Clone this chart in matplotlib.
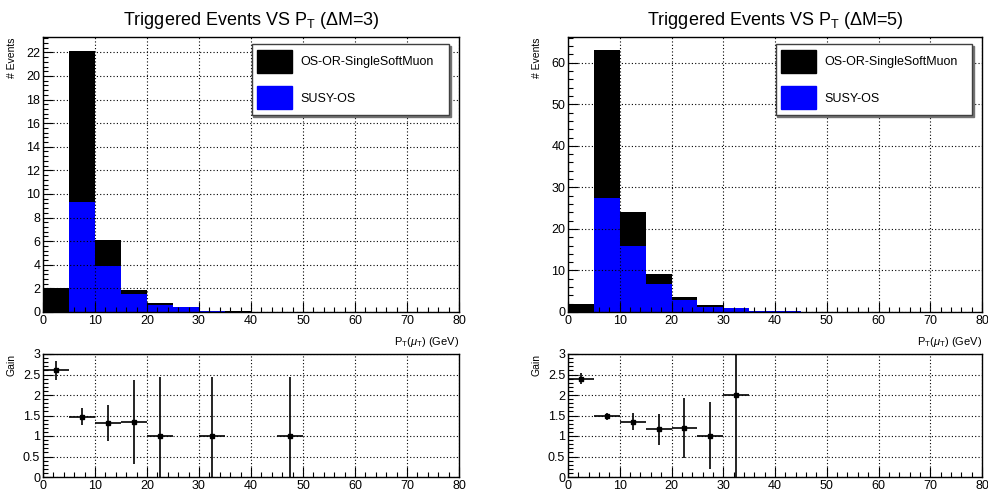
import numpy as np
import matplotlib
matplotlib.use("Agg")
import matplotlib.pyplot as plt
from matplotlib.patches import Patch
from matplotlib.ticker import MultipleLocator

plt.rcParams['font.family'] = ['Liberation Sans', 'DejaVu Sans']
plt.rcParams['mathtext.fontset'] = 'custom'
plt.rcParams['mathtext.rm'] = 'Liberation Sans'
plt.rcParams['mathtext.it'] = 'Liberation Sans:italic'

# pT bins, 5 GeV wide from 0 to 80
edges = np.arange(0, 85, 5)

# dM = 3 sample
or_dm3 = [2.0, 22.1, 6.1, 1.9, 0.8, 0.4, 0.1, 0.1, 0, 0, 0, 0, 0, 0, 0, 0]
susy_dm3 = [0, 9.3, 3.9, 1.5, 0.6, 0.4, 0.1, 0, 0, 0, 0, 0, 0, 0, 0, 0]
gain_x_dm3 = [2.5, 7.5, 12.5, 17.5, 22.5, 32.5, 47.5]
gain_dm3 = [2.6, 1.47, 1.32, 1.35, 1.0, 1.0, 1.0]
gain_lo_dm3 = [2.36, 1.27, 0.87, 0.32, 0.0, 0.0, 0.0]
gain_hi_dm3 = [2.84, 1.68, 1.75, 2.36, 2.43, 2.43, 2.43]

# dM = 5 sample
or_dm5 = [2.0, 63.1, 24.0, 9.1, 3.6, 1.8, 1.0, 0.3, 0.3, 0, 0, 0, 0, 0, 0, 0]
susy_dm5 = [0, 27.5, 16.0, 6.7, 2.9, 1.2, 0.9, 0.3, 0.3, 0, 0, 0, 0, 0, 0, 0]
gain_x_dm5 = [2.5, 7.5, 12.5, 17.5, 22.5, 27.5, 32.5]
gain_dm5 = [2.38, 1.48, 1.35, 1.17, 1.2, 1.0, 2.0]
gain_lo_dm5 = [2.27, 1.38, 1.14, 0.79, 0.47, 0.19, 0.0]
gain_hi_dm5 = [2.53, 1.56, 1.57, 1.54, 1.93, 1.83, 4.0]

panels = [
    ("3", or_dm3, susy_dm3, 23.3, 2, gain_x_dm3, gain_dm3, gain_lo_dm3, gain_hi_dm3),
    ("5", or_dm5, susy_dm5, 66.2, 10, gain_x_dm5, gain_dm5, gain_lo_dm5, gain_hi_dm5),
]

W, H = 988, 494
fig = plt.figure(figsize=(W / 100, H / 100), dpi=100)


def px_axes(x0, x1, y0, y1):
    return fig.add_axes([x0 / W, 1 - y1 / H, (x1 - x0) / W, (y1 - y0) / H])


def root_style(ax, ymajor):
    ax.set_xlim(0, 80)
    ax.xaxis.set_major_locator(MultipleLocator(10))
    ax.xaxis.set_minor_locator(MultipleLocator(2))
    ax.yaxis.set_major_locator(MultipleLocator(ymajor))
    ax.yaxis.set_minor_locator(MultipleLocator(ymajor / 5))
    ax.tick_params(which='both', direction='in', top=False, right=False,
                   labelsize=9, width=0.8, pad=2)
    ax.tick_params(which='major', length=7)
    ax.tick_params(which='minor', length=3.5)
    ax.grid(True, which='major', color='k', linestyle=(0, (1, 2)), linewidth=0.8)
    ax.set_axisbelow(False)
    for s in ax.spines.values():
        s.set_linewidth(1.0)


lefts = [(43, 459), (568, 982)]
for (x0, x1), (dm, tot, susy, ymax, ymaj, gx, g, glo, ghi) in zip(lefts, panels):
    ax = px_axes(x0, x1, 37, 312)
    ax.stairs(tot, edges, fill=True, color='black')
    ax.stairs(susy, edges, fill=True, color='#0000ff')
    ax.set_ylim(0, ymax)
    root_style(ax, ymaj)
    ax.set_title(r"Triggered Events VS P$_{\rm T}$ ($\Delta$M=" + dm + ")",
                 fontsize=13, pad=9)
    ax.text(-0.075, 1.0, "# Events", transform=ax.transAxes, rotation=90,
            ha='center', va='top', fontsize=7.5)
    ax.text(1.0, -0.085, r"P$_{\rm T}$($\mu_{\rm T}$) (GeV)", transform=ax.transAxes,
            ha='right', va='top', fontsize=8)
    handles = [Patch(facecolor='black', edgecolor='black'),
               Patch(facecolor='#0000ff', edgecolor='#0000ff')]
    leg = ax.legend(handles, ["OS-OR-SingleSoftMuon", "SUSY-OS"],
                    loc='upper left', bbox_to_anchor=(0.502, 0.975, 0.474, 0.0),
                    mode='expand', fontsize=9, handlelength=2.8, handleheight=2.5,
                    labelspacing=1.05, borderpad=0.45, handletextpad=0.6,
                    borderaxespad=0, fancybox=False, framealpha=1,
                    shadow={'color': '0.45', 'alpha': 1, 'ox': 1.2, 'oy': -1.2})
    leg.get_frame().set_edgecolor('0.25')
    leg.get_frame().set_linewidth(1.0)

    bx = px_axes(x0, x1, 354, 477)
    g = np.array(g)
    yerr = [g - np.array(glo), np.array(ghi) - g]
    bx.errorbar(gx, g, xerr=2.5, yerr=yerr, fmt='s', color='black',
                markersize=2.5, elinewidth=1.2, capsize=0)
    bx.set_ylim(0, 3)
    root_style(bx, 0.5)
    bx.yaxis.set_minor_locator(MultipleLocator(0.1))
    bx.yaxis.set_major_formatter(plt.FuncFormatter(lambda v, p: f"{v:g}"))
    bx.text(-0.075, 1.0, "Gain", transform=bx.transAxes, rotation=90,
            ha='center', va='top', fontsize=7.5)

fig.savefig("out.png", dpi=100)
